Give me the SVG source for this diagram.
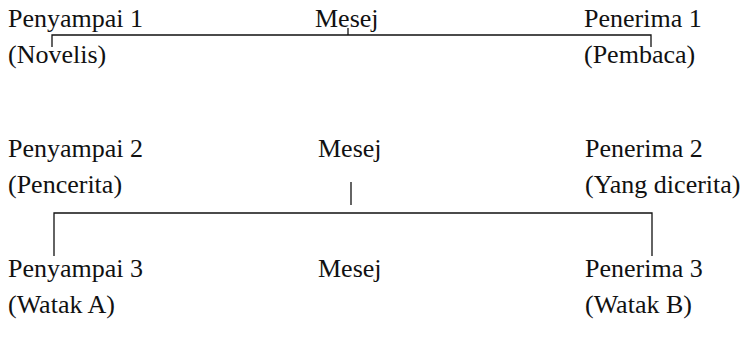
<svg xmlns="http://www.w3.org/2000/svg" width="748" height="340" viewBox="0 0 748 340">
<style>
.t{font-family:'Liberation Serif',serif;font-size:26px;fill:#111}
.c{stroke:#111;stroke-width:1.3;fill:none}
</style>
<rect width="748" height="340" fill="#fff"/>
<g id="penyampai1" class="t"><text x="8" y="27">Penyampai 1</text><text x="8" y="63">(Novelis)</text></g>
<g id="mesej1" class="t"><text x="315" y="27">Mesej</text></g>
<g id="penerima1" class="t"><text x="584" y="27">Penerima 1</text><text x="584" y="63">(Pembaca)</text></g>
<g id="penyampai2" class="t"><text x="8" y="157">Penyampai 2</text><text x="8" y="193">(Pencerita)</text></g>
<g id="mesej2" class="t"><text x="318" y="157">Mesej</text></g>
<g id="penerima2" class="t"><text x="585" y="157">Penerima 2</text><text x="585" y="193">(Yang dicerita)</text></g>
<g id="penyampai3" class="t"><text x="8" y="277">Penyampai 3</text><text x="8" y="313">(Watak A)</text></g>
<g id="mesej3" class="t"><text x="318" y="277">Mesej</text></g>
<g id="penerima3" class="t"><text x="585" y="277">Penerima 3</text><text x="585" y="313">(Watak B)</text></g>
<g id="connectors">
<path class="c" d="M52,47 V35 H651 V47"/>
<path class="c" d="M348,28 V35"/>
<path class="c" d="M351,182 V205"/>
<path class="c" d="M54,256 V213 H652 V256"/>
</g>
</svg>
